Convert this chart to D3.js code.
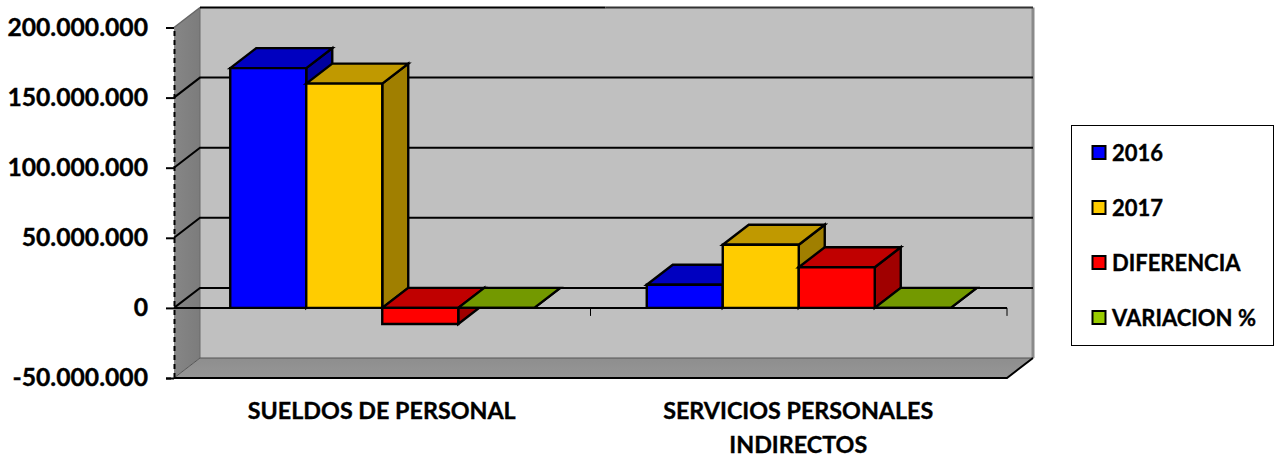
<!DOCTYPE html>
<html><head><meta charset="utf-8">
<script src="https://cdn.jsdelivr.net/npm/d3@7"></script>
<style>
html,body{margin:0;padding:0;background:#fff;overflow:hidden}
svg{display:block}
text{font-family:Lato,"Open Sans",sans-serif;font-weight:700;fill:#000;stroke:#000;stroke-width:.35px}
</style></head><body><svg id="c" width="1275" height="458"></svg>
<script>
const categories = ["SUELDOS DE PERSONAL", "SERVICIOS PERSONALES|INDIRECTOS"];
const seriesNames = ["2016", "2017", "DIFERENCIA", "VARIACION %"];
const values2016 = [171000000, 16500000];
const values2017 = [160000000, 45000000];
const valuesDiferencia = [-11500000, 29000000];
const valuesVariacion = [0, 0];
const tickValues = [200000000, 150000000, 100000000, 50000000, 0, -50000000];
const frontColors = ["#0000ff", "#ffcc00", "#ff0000", "#99cc00"];
const topColors = ["#0000c0", "#c09900", "#c00000", "#739900"];
const sideColors = ["#00009e", "#a07f00", "#a00000", "#5f7f00"];

const svg = d3.select("#c");
const dx = 26, dy = -20;
const x0 = 174, x1 = 1007;
const y = d3.scaleLinear().domain([-50000000, 200000000]).range([378, 27.5]);
const xBand = d3.scaleBand().domain(categories).range([x0, x1]).paddingInner(0).paddingOuter(0);
const barW = 76;
const xSer = d3.scaleBand().domain(seriesNames).range([0, barW * 4]);
const seriesVals = [values2016, values2017, valuesDiferencia, valuesVariacion];
const poly = pts => pts.map(p => p.join(",")).join(" ");

const defs = svg.append("defs");
const g1 = defs.append("linearGradient").attr("id","lw").attr("x1",0).attr("x2",1).attr("y1",0).attr("y2",0);
g1.append("stop").attr("offset",0).attr("stop-color","#868686");
g1.append("stop").attr("offset",1).attr("stop-color","#7c7c7c");
const g2 = defs.append("linearGradient").attr("id","fl").attr("x1",0).attr("x2",0).attr("y1",0).attr("y2",1);
g2.append("stop").attr("offset",0).attr("stop-color","#8e8e8e");
g2.append("stop").attr("offset",1).attr("stop-color","#969696");

const yMin = y(-50000000), yMax = y(200000000);
// back wall
svg.append("polygon").attr("points", poly([[x0+dx,yMax+dy],[x1+dx,yMax+dy],[x1+dx,yMin+dy],[x0+dx,yMin+dy]])).attr("fill","#c0c0c0");
svg.append("line").attr("x1",x1+dx).attr("x2",x1+dx).attr("y1",yMax+dy).attr("y2",yMin+dy).attr("stroke","#8a8a8a").attr("stroke-width",3);
// left wall
svg.append("polygon").attr("points", poly([[x0,yMax],[x0+dx,yMax+dy],[x0+dx,yMin+dy],[x0,yMin]])).attr("fill","url(#lw)");
svg.append("line").attr("x1",x0+dx).attr("x2",x0+dx).attr("y1",yMax+dy).attr("y2",yMin+dy).attr("stroke","#6a6a6a").attr("stroke-width",1);
svg.append("line").attr("x1",x0).attr("x2",x0+dx).attr("y1",yMax).attr("y2",yMax+dy).attr("stroke","#666").attr("stroke-width",1.5);
// floor
svg.append("polygon").attr("points", poly([[x0,yMin],[x1,yMin],[x1+dx,yMin+dy],[x0+dx,yMin+dy]])).attr("fill","url(#fl)");
svg.append("line").attr("x1",x0+dx).attr("x2",x1+dx).attr("y1",yMin+dy).attr("y2",yMin+dy).attr("stroke","#555").attr("stroke-width",1);
svg.append("line").attr("x1",x0).attr("x2",x0+dx).attr("y1",yMin).attr("y2",yMin+dy).attr("stroke","#555").attr("stroke-width",1);
// gridlines
tickValues.filter(v => v > -50000000 && v < 200000000).forEach(v => {
  svg.append("polyline").attr("fill","none").attr("stroke","#000").attr("stroke-width",2)
    .attr("points", poly([[x0,y(v)],[x0+dx,y(v)+dy],[x1+dx,y(v)+dy]]));
});
// top edge of the back wall: black on the left part, dark grey on the right part
const topMid = xBand(categories[1]) + 15;
svg.append("line").attr("x1",x0+dx).attr("x2",topMid).attr("y1",yMax+dy).attr("y2",yMax+dy).attr("stroke","#000").attr("stroke-width",2);
svg.append("line").attr("x1",topMid).attr("x2",x1+dx).attr("y1",yMax+dy).attr("y2",yMax+dy).attr("stroke","#333").attr("stroke-width",2);
// bars
categories.forEach((c, ci) => {
  const start = xBand(c) + (xBand.bandwidth() - barW * 4) / 2;
  seriesNames.forEach((s, si) => {
    const v = seriesVals[si][ci];
    const l = start + xSer(s), r = l + xSer.bandwidth();
    const t = y(Math.max(v, 0)), b = y(Math.min(v, 0));
    const g = svg.append("g").attr("stroke","#000").attr("stroke-width",2.4).attr("stroke-linejoin","miter");
    g.append("polygon").attr("points", poly([[r,t],[r+dx,t+dy],[r+dx,b+dy],[r,b]])).attr("fill",sideColors[si]);
    g.append("polygon").attr("points", poly([[l,t],[l+dx,t+dy],[r+dx,t+dy],[r,t]])).attr("fill",topColors[si]);
    g.append("polygon").attr("points", poly([[l,t],[r,t],[r,b],[l,b]])).attr("fill",frontColors[si]);
  });
});
// zero line and category ticks
svg.append("line").attr("x1",x0).attr("x2",x1).attr("y1",y(0)).attr("y2",y(0)).attr("stroke","#000").attr("stroke-width",2);
categories.forEach((c,i) => {
  const xt = xBand(c) + xBand.bandwidth();
  svg.append("line").attr("x1",xt).attr("x2",xt).attr("y1",y(0)).attr("y2",y(0)+8).attr("stroke","#000").attr("stroke-width",1);
});
// floor front edge
svg.append("polyline").attr("fill","none").attr("stroke","#000").attr("stroke-width",2)
  .attr("points", poly([[x0,yMin],[x1,yMin],[x1+dx,yMin+dy]]));
// y axis
const yAxis = d3.axisLeft(y).tickValues(tickValues).tickSize(8).tickPadding(18)
  .tickFormat(d => d3.format(",")(d).replace(/,/g,".").replace("−","-"));
const ax = svg.append("g").attr("transform",`translate(${x0},0)`).call(yAxis);
ax.select(".domain").attr("stroke","#000").attr("stroke-width",2).attr("stroke-dasharray","5 4");
ax.selectAll(".tick line").attr("stroke","#000").attr("stroke-width",2);
ax.selectAll(".tick text").attr("font-size",24.7).style("font-family","Lato").style("font-weight",700).attr("fill","#000");
// category labels
categories.forEach(c => {
  const cx = xBand(c) + xBand.bandwidth()/2 - 0.5;
  c.split("|").forEach((line,i) => {
    svg.append("text").attr("x",cx).attr("y",419+i*34).attr("text-anchor","middle").attr("font-size",23.3).text(line);
  });
});
// legend
svg.append("rect").attr("x",1071.5).attr("y",125.5).attr("width",202).attr("height",220).attr("fill","#fff").attr("stroke","#000").attr("stroke-width",1);
const ly = d3.scalePoint().domain(seriesNames).range([153,318]);
seriesNames.forEach((s,i) => {
  svg.append("rect").attr("x",1092.5).attr("y",ly(s)-7).attr("width",13).attr("height",13).attr("fill",frontColors[i]).attr("stroke","#000").attr("stroke-width",2);
  svg.append("text").attr("x",1112).attr("y",ly(s)+7.5).attr("font-size",22).text(s);
});
</script></body></html>
